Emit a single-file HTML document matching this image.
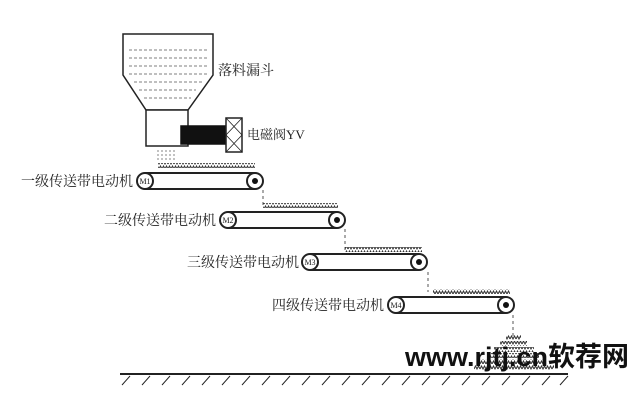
<!DOCTYPE html>
<html><head><meta charset="utf-8"><style>
html,body{margin:0;padding:0;background:#fff;}
svg{display:block}
text{font-family:"Liberation Serif","Noto Serif CJK SC","Noto Sans CJK SC",serif;fill:#222}
</style></head><body>
<svg width="640" height="402" viewBox="0 0 640 402" xmlns="http://www.w3.org/2000/svg">
<defs>
<pattern id="wv" width="6" height="5" patternUnits="userSpaceOnUse">
<path d="M0,4 L1.5,1 L3,4 L4.5,1 L6,4" fill="none" stroke="#333" stroke-width="1"/>
</pattern>
</defs>
<g stroke="#222" fill="none" stroke-width="1.5">
<path d="M123,34 H213 V75 L188,110 H146 L123,75 Z" fill="#fff"/>
<rect x="146" y="110" width="42" height="36" fill="#fff"/>
<g stroke="#555" stroke-width="0.8" stroke-dasharray="3,2">
<line x1="129" y1="50" x2="207" y2="50"/>
<line x1="129" y1="58" x2="207" y2="58"/>
<line x1="129" y1="66" x2="207" y2="66"/>
<line x1="129" y1="74" x2="207" y2="74"/>
<line x1="134" y1="82" x2="202" y2="82"/>
<line x1="139" y1="90" x2="196" y2="90"/>
<line x1="144" y1="98" x2="191" y2="98"/>
</g>
<rect x="181" y="126" width="44" height="18" fill="#111" stroke="#111"/>
<rect x="226" y="118" width="16" height="34" fill="#fff"/>
<path d="M226,118 L242,135 L226,152 M242,118 L226,135 L242,152" stroke-width="0.8"/>
<g stroke="#666" stroke-width="0.8" stroke-dasharray="2,2">
<line x1="158" y1="150" x2="158" y2="162"/><line x1="162" y1="150" x2="162" y2="162"/>
<line x1="166" y1="150" x2="166" y2="162"/><line x1="170" y1="150" x2="170" y2="162"/>
<line x1="174" y1="150" x2="174" y2="162"/>
</g>
<g stroke-width="2">
<path d="M145,173 H255 M145,189 H255"/>
<circle cx="145" cy="181" r="8" fill="#fff"/><circle cx="255" cy="181" r="8" fill="#fff"/>
<path d="M228,212 H337 M228,228 H337"/>
<circle cx="228" cy="220" r="8" fill="#fff"/><circle cx="337" cy="220" r="8" fill="#fff"/>
<path d="M310,254 H419 M310,270 H419"/>
<circle cx="310" cy="262" r="8" fill="#fff"/><circle cx="419" cy="262" r="8" fill="#fff"/>
<path d="M396,297 H506 M396,313 H506"/>
<circle cx="396" cy="305" r="8" fill="#fff"/><circle cx="506" cy="305" r="8" fill="#fff"/>
</g>
<g stroke="#555" stroke-width="1" stroke-dasharray="3,3">
<line x1="263" y1="190" x2="263" y2="206"/>
<line x1="345" y1="229" x2="345" y2="250"/>
<line x1="428" y1="272" x2="428" y2="292"/>
<line x1="513" y1="315" x2="513" y2="336"/>
</g>
<line x1="120" y1="374" x2="568" y2="374" stroke-width="2"/>
</g>
<g fill="#111">
<circle cx="255" cy="181" r="3"/><circle cx="337" cy="220" r="3"/>
<circle cx="419" cy="262" r="3"/><circle cx="506" cy="305" r="3"/>
</g>
<g stroke="#222" stroke-width="1">
<path d="M130,376 l-8,9 M150,376 l-8,9 M170,376 l-8,9 M190,376 l-8,9 M210,376 l-8,9 M230,376 l-8,9 M250,376 l-8,9 M270,376 l-8,9 M290,376 l-8,9 M310,376 l-8,9 M330,376 l-8,9 M350,376 l-8,9 M370,376 l-8,9 M390,376 l-8,9 M410,376 l-8,9 M430,376 l-8,9 M450,376 l-8,9 M470,376 l-8,9 M490,376 l-8,9 M510,376 l-8,9 M530,376 l-8,9 M550,376 l-8,9 M568,376 l-8,9"/>
</g>
<rect x="158" y="163" width="97" height="5" fill="url(#wv)"/>
<rect x="263" y="203" width="75" height="5" fill="url(#wv)"/>
<rect x="345" y="247" width="77" height="5" fill="url(#wv)"/>
<rect x="433" y="289" width="77" height="5" fill="url(#wv)"/>
<rect x="506" y="335" width="15" height="5" fill="url(#wv)"/>
<rect x="500" y="341" width="27" height="5" fill="url(#wv)"/>
<rect x="494" y="347" width="40" height="5" fill="url(#wv)"/>
<rect x="487" y="353" width="52" height="5" fill="url(#wv)"/>
<rect x="480" y="359" width="64" height="5" fill="url(#wv)"/>
<rect x="474" y="365" width="80" height="5" fill="url(#wv)"/>
<g font-size="8" text-anchor="middle">
<text x="145" y="184">M1</text><text x="228" y="223">M2</text>
<text x="310" y="265">M3</text><text x="396" y="308">M4</text>
</g>
<g font-size="14">
<text x="218" y="75">落料漏斗</text>
<text x="247" y="139" font-size="13">电磁阀YV</text>
<text x="21" y="186">一级传送带电动机</text>
<text x="104" y="225">二级传送带电动机</text>
<text x="187" y="267">三级传送带电动机</text>
<text x="272" y="310">四级传送带电动机</text>
</g>
<text x="405" y="366" font-size="27" font-weight="bold" style="font-family:'Liberation Sans','Noto Sans CJK SC',sans-serif;fill:#111">www.rjtj.cn软荐网</text>
</svg>
</body></html>
